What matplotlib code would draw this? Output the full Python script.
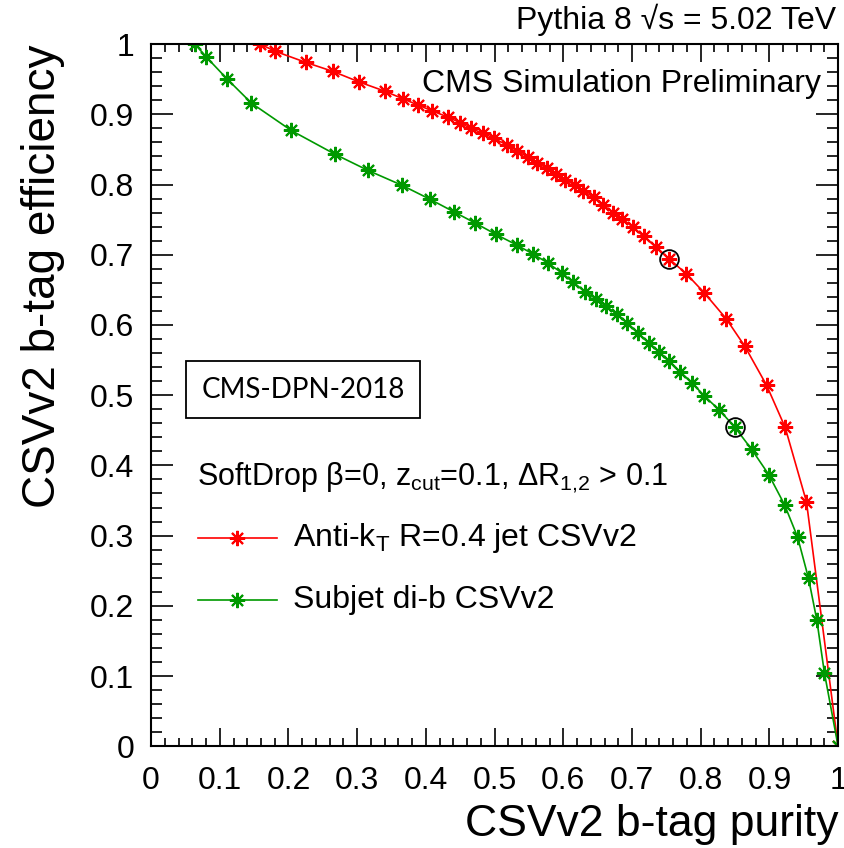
import numpy as np
import matplotlib
matplotlib.use('Agg')
import matplotlib.pyplot as plt
from matplotlib.ticker import MultipleLocator

plt.rcParams['font.family'] = ['Liberation Sans', 'DejaVu Sans']
plt.rcParams['mathtext.fontset'] = 'custom'
plt.rcParams['mathtext.rm'] = 'Liberation Sans'
plt.rcParams['mathtext.it'] = 'Liberation Sans'

# purity (x) / efficiency (y)
akt_purity = [0.159, 0.180, 0.225, 0.265, 0.303, 0.340, 0.367, 0.389, 0.409,
              0.432, 0.450, 0.465, 0.483, 0.499, 0.518, 0.533, 0.548, 0.562,
              0.576, 0.589, 0.603, 0.617, 0.629, 0.644, 0.658, 0.672, 0.686,
              0.702, 0.717, 0.735, 0.754, 0.779, 0.805, 0.837, 0.864, 0.896,
              0.923, 0.954, 1.000]
akt_eff = [1.000, 0.990, 0.974, 0.961, 0.946, 0.933, 0.922, 0.913, 0.905,
           0.896, 0.888, 0.880, 0.873, 0.866, 0.856, 0.848, 0.839, 0.831,
           0.823, 0.815, 0.807, 0.799, 0.791, 0.782, 0.771, 0.760, 0.751,
           0.739, 0.726, 0.711, 0.694, 0.673, 0.646, 0.609, 0.570, 0.514,
           0.454, 0.348, 0.000]

sub_purity = [0.064, 0.080, 0.111, 0.146, 0.204, 0.268, 0.316, 0.365, 0.406,
              0.441, 0.472, 0.502, 0.532, 0.556, 0.578, 0.598, 0.614, 0.632,
              0.648, 0.662, 0.678, 0.693, 0.709, 0.725, 0.739, 0.754, 0.770,
              0.788, 0.805, 0.827, 0.850, 0.874, 0.899, 0.922, 0.941, 0.957,
              0.969, 0.980, 1.000]
sub_eff = [1.000, 0.982, 0.950, 0.916, 0.877, 0.843, 0.820, 0.799, 0.779,
           0.761, 0.745, 0.729, 0.714, 0.701, 0.688, 0.674, 0.661, 0.647,
           0.637, 0.627, 0.615, 0.603, 0.588, 0.574, 0.562, 0.548, 0.533,
           0.517, 0.499, 0.479, 0.454, 0.423, 0.387, 0.344, 0.298, 0.239,
           0.180, 0.105, 0.000]

# working points circled in the plot
wp_purity = [0.754, 0.850]
wp_eff = [0.694, 0.454]

tick_vals = [0, 0.1, 0.2, 0.3, 0.4, 0.5, 0.6, 0.7, 0.8, 0.9, 1]
tick_labels = ['0', '0.1', '0.2', '0.3', '0.4', '0.5', '0.6', '0.7', '0.8',
               '0.9', '1']

RED = '#ff0000'
GREEN = '#009900'
star = (8, 2, 0)
MS = 11
MEW = 1.5

fig = plt.figure(figsize=(8.44, 8.48), dpi=100)
ax = fig.add_axes([0.179, 0.120, 0.814, 0.828])

ax.plot(akt_purity, akt_eff, color=RED, lw=1.2, marker=star, ms=MS, mew=MEW)
ax.plot(sub_purity, sub_eff, color=GREEN, lw=1.2, marker=star, ms=MS,
        mew=MEW)
ax.plot(wp_purity, wp_eff, ls='none', marker='o', ms=13.5, mfc='none',
        mec='black', mew=1.3, zorder=5)

ax.set_xlim(0, 1)
ax.set_ylim(0, 1)
ax.set_xticks(tick_vals, tick_labels)
ax.set_yticks(tick_vals, tick_labels)
ax.xaxis.set_minor_locator(MultipleLocator(0.02))
ax.yaxis.set_minor_locator(MultipleLocator(0.02))
ax.tick_params(axis='both', which='both', direction='in', top=True,
               right=True, labelsize=23, width=1.2)
ax.tick_params(axis='x', which='major', length=13, pad=14)
ax.tick_params(axis='x', which='minor', length=6)
ax.tick_params(axis='y', which='major', length=16, pad=12)
ax.tick_params(axis='y', which='minor', length=8)
for sp in ax.spines.values():
    sp.set_linewidth(1.5)

ax.set_xlabel('CSVv2 b-tag purity', fontsize=32, loc='right', labelpad=6)
ax.set_ylabel('CSVv2 b-tag efficiency', fontsize=33, loc='top', labelpad=18)

fig.text(0.991, 0.958, 'Pythia 8 \u221as = 5.02 TeV', fontsize=23,
         ha='right', va='bottom')
ax.text(0.975, 0.965, 'CMS Simulation Preliminary', fontsize=23,
        ha='right', va='top', transform=ax.transAxes)

ax.text(0.073, 0.508, 'CMS-DPN-2018', fontsize=20, family=['Lato'],
        ha='left', va='center', transform=ax.transAxes,
        bbox=dict(boxstyle='square,pad=0.55', fc='white', ec='black',
                  lw=1.3))

ax.text(0.067, 0.382, 'SoftDrop \u03b2=0, z$_{\\mathrm{cut}}$=0.1, '
        '\u0394R$_{1{,}2}$ > 0.1', fontsize=22, ha='left', va='center',
        transform=ax.transAxes)

# legend entries drawn by hand, ROOT style
leg_x = [0.068, 0.183]
for y, col, lab in [(0.296, RED, 'Anti-k$_{\\mathrm{T}}$ R=0.4 jet CSVv2'),
                    (0.208, GREEN, 'Subjet di-b CSVv2')]:
    ax.plot(leg_x, [y, y], color=col, lw=1.2, transform=ax.transAxes)
    ax.plot([np.mean(leg_x)], [y], color=col, marker=star, ms=MS, mew=MEW,
            transform=ax.transAxes)
    ax.text(0.207, y, lab, fontsize=23, ha='left', va='center',
            transform=ax.transAxes)

fig.savefig('out.png', dpi=100)
